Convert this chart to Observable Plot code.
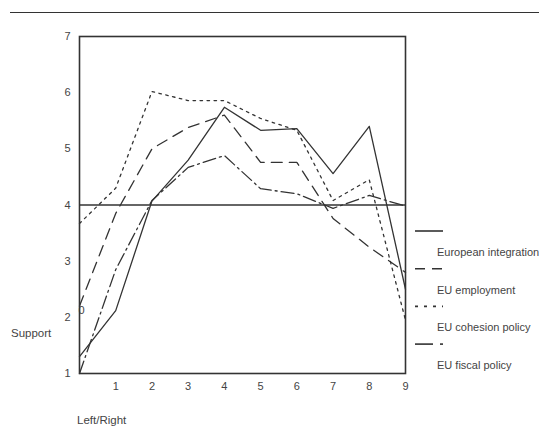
<!DOCTYPE html>
<html>
<head>
<meta charset="utf-8">
<script src="https://cdn.jsdelivr.net/npm/d3@7"></script>
<script src="https://cdn.jsdelivr.net/npm/@observablehq/plot@0.6"></script>
<style>
  html, body { margin: 0; padding: 0; background: #fff; }
  #wrap { position: relative; width: 539px; height: 427px; overflow: hidden; font-family: "Liberation Sans", Arial, sans-serif; color: #444; }
  #chart { position: absolute; left: 0; top: 0; }
  .lbl { position: absolute; font-size: 11.5px; color: #444; white-space: nowrap; }
  #rule { position: absolute; left: 10px; top: 12px; width: 529px; height: 0; border-top: 1.6px solid #333; }
  #legend { position: absolute; left: 0; top: 0; }
</style>
</head>
<body>
<div id="wrap">
  <div id="rule"></div>
  <div id="chart"></div>
  <svg id="legend" width="539" height="427"></svg>
  <div class="lbl" style="left:11px; top:327px;">Support</div>
  <div class="lbl" style="left:77px; top:414px;">Left/Right</div>
</div>
<script>
// ---- data ----
const positions = [0, 1, 2, 3, 4, 5, 6, 7, 8, 9];
const seriesNames = ["European integration", "EU employment", "EU cohesion policy", "EU fiscal policy"];
const europeanIntegration = [1.3, 2.12, 4.07, 4.8, 5.74, 5.33, 5.36, 4.56, 5.4, 2.5];
const euEmployment        = [2.2, 3.85, 5.0, 5.38, 5.6, 4.76, 4.76, 3.76, 3.25, 2.8];
const euCohesion          = [3.67, 4.3, 6.02, 5.86, 5.86, 5.54, 5.33, 4.08, 4.45, 1.95];
const euFiscal            = [1.0, 2.85, 4.08, 4.67, 4.88, 4.29, 4.2, 3.94, 4.17, 3.98];
const yTicks = [1, 2, 3, 4, 5, 6, 7];
const xTicks = [1, 2, 3, 4, 5, 6, 7, 8, 9];
const referenceLevel = [4];
const strayLabels = [{x: 0, y: 2.12, text: "0"}];

// ---- styles ----
const dashes = ["none", "11,7", "2.5,4.5", "13,4,2,4"];
const ink = "#333";

const allSeries = [europeanIntegration, euEmployment, euCohesion, euFiscal];
const rows = allSeries.flatMap((vals, i) =>
  positions.map((p, j) => ({x: p, y: vals[j], series: seriesNames[i]})));

const lineMarks = seriesNames.map((name, i) =>
  Plot.line(rows.filter(d => d.series === name), {
    x: "x", y: "y", stroke: ink, strokeWidth: 1.3,
    strokeDasharray: dashes[i] === "none" ? null : dashes[i]
  }));

const chart = Plot.plot({
  width: 539,
  height: 427,
  marginLeft: 79,
  marginRight: 134,
  marginTop: 36,
  marginBottom: 54,
  style: {fontFamily: "Liberation Sans, Arial, sans-serif", fontSize: "11px", color: "#444", background: "transparent"},
  x: {domain: [0, 9], ticks: xTicks, tickSize: 0, tickPadding: 9, label: null, tickFormat: d => String(d)},
  y: {domain: [1, 7], ticks: yTicks, tickSize: 0, tickPadding: 9, label: null, tickFormat: d => String(d)},
  marks: [
    Plot.ruleY(referenceLevel, {stroke: ink, strokeWidth: 1.5}),
    ...lineMarks,
    Plot.text(strayLabels, {x: "x", y: "y", text: "text", fill: "#444", fontSize: 11, dx: 2}),
    Plot.frame({stroke: ink, strokeWidth: 1.6})
  ]
});
document.getElementById("chart").appendChild(chart);

// ---- legend (samples and labels from the series arrays) ----
const leg = d3.select("#legend");
const legX0 = 415, legX1 = 443, legTop = 231, legStep = 37.7;
seriesNames.forEach((name, i) => {
  const y = legTop + i * legStep;
  if (i === 3) {
    leg.append("line").attr("x1", legX0).attr("x2", legX0 + 18).attr("y1", y).attr("y2", y)
      .attr("stroke", ink).attr("stroke-width", 1.6);
    leg.append("line").attr("x1", legX0 + 25).attr("x2", legX0 + 28).attr("y1", y).attr("y2", y)
      .attr("stroke", ink).attr("stroke-width", 1.6);
  } else {
    leg.append("line").attr("x1", legX0).attr("x2", legX1).attr("y1", y).attr("y2", y)
      .attr("stroke", ink).attr("stroke-width", 1.6)
      .attr("stroke-dasharray", i === 0 ? null : (i === 1 ? "10,7" : "3,6"));
  }
  leg.append("text").attr("x", 437).attr("y", y + 21 + 4)
    .attr("font-size", 11).attr("fill", "#444")
    .attr("font-family", "Liberation Sans, Arial, sans-serif")
    .text(name);
});
</script>
</body>
</html>
